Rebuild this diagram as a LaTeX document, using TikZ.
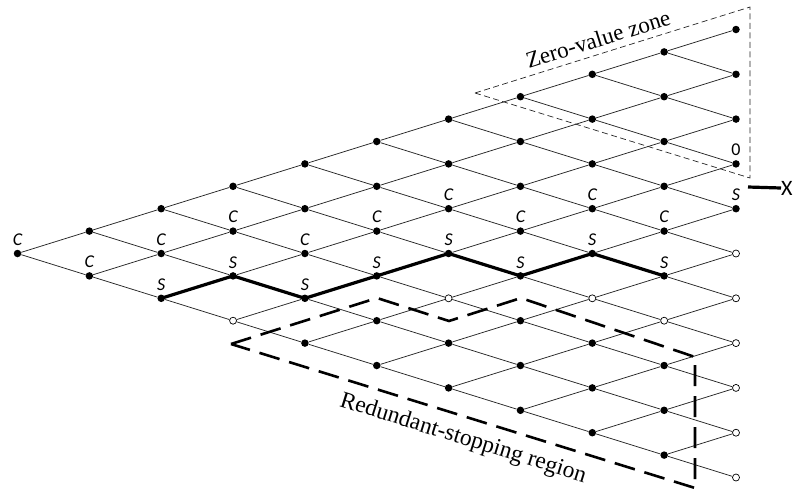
\documentclass[tikz,border=0pt]{standalone}
\usepackage{fontspec}
\setmainfont{Liberation Serif}
\newfontfamily\lblfont{Carlito}
\begin{document}
\begin{tikzpicture}[x=1pt,y=-1pt,
  lattice/.style={line width=0.75pt, black!85},
  dotpt/.style={circle, fill=black, inner sep=0pt, minimum size=7.5pt},
  openpt/.style={circle, draw=black, fill=white, line width=0.7pt, inner sep=0pt, minimum size=7pt},
  lbl/.style={font=\lblfont\itshape\fontsize{18}{18}\selectfont, inner sep=0pt},
  uplbl/.style={font=\lblfont\fontsize{18}{18}\selectfont, inner sep=0pt},
  pathline/.style={line width=3.2pt, line join=round, line cap=round},
  zonedash/.style={line width=0.7pt, black!85, dash pattern=on 6pt off 3.5pt},
  regiondash/.style={line width=2.6pt, dash pattern=on 21pt off 10pt},
  zonetext/.style={font=\fontsize{23}{23}\selectfont, inner sep=0pt}
]
\useasboundingbox (0,0) rectangle (795,491);

% lattice nodes: column k, row j (from the top), level m = k - 2j
\foreach \k in {0,...,10} {
  \foreach \j in {0,...,\k} {
    \pgfmathtruncatemacro\m{\k-2*\j}
    \pgfmathtruncatemacro\isopen{((\k==10)&&(\m<1)) || ((\k==3)&&(\m==-3)) || ((\k==6)&&(\m==-2)) || ((\k==8)&&(\m==-2)) || ((\k==9)&&(\m==-3))}
    \pgfmathsetmacro\px{17.5+71.85*\k}
    \pgfmathsetmacro\py{253.5-22.4*\m}
    \ifnum\isopen=1
      \node[openpt] (n-\k-\j) at (\px,\py) {};
    \else
      \node[dotpt] (n-\k-\j) at (\px,\py) {};
    \fi
  }
}

% up and down moves
\foreach \k in {0,...,9} {
  \pgfmathtruncatemacro\kn{\k+1}
  \foreach \j in {0,...,\k} {
    \pgfmathtruncatemacro\jn{\j+1}
    \draw[lattice] (n-\k-\j) -- (n-\kn-\j);
    \draw[lattice] (n-\k-\j) -- (n-\kn-\jn);
  }
}

% stopping boundary
\draw[pathline] (n-2-2.center) -- (n-3-2.center) -- (n-4-3.center) -- (n-5-3.center)
  -- (n-6-3.center) -- (n-7-4.center) -- (n-8-4.center) -- (n-9-5.center);

% continuation labels
\foreach \k/\j in {0/0, 1/1, 2/1, 3/1, 4/2, 5/2, 6/2, 7/3, 8/3, 9/4}
  \node[lbl] (c-\k) at ([yshift=14pt]n-\k-\j.center) {C};
% stopping labels
\foreach \k/\j in {2/2, 3/2, 4/3, 5/3, 6/3, 7/4, 8/4, 9/5, 10/4}
  \node[lbl] (s-\k) at ([yshift=13.5pt]n-\k-\j.center) {S};
\node[uplbl] (zero) at ([yshift=14.5pt]n-10-3.center) {0};

% barrier marker
\coordinate (xa) at (748,187);
\node[font=\lblfont\fontsize{22}{22}\selectfont, inner sep=0pt, anchor=west] (xl) at (781,188) {X};
\draw[line width=3.2pt] (xa) -- (xl.west);

% zero-value zone
\coordinate (z1) at (475,93);
\coordinate (z2) at (750,7);
\coordinate (z3) at (750,178);
\draw[zonedash] (z1) -- (z2) -- (z3) -- cycle;
\node[zonetext, rotate=17.4] (ztext) at (598,39) {Zero-value zone};

% redundant-stopping region
\coordinate (r1) at (231,344);
\coordinate (r2) at (377,298);
\coordinate (r3) at (449,321);
\coordinate (r4) at (521,298);
\coordinate (r5) at (695,357);
\coordinate (r6) at (695,488);
\draw[regiondash] (r1) -- (r2) -- (r3) -- (r4) -- (r5) -- (r6) -- cycle;
\node[zonetext, rotate=-17.3, font=\fontsize{23.5}{23.5}\selectfont] (rtext) at (463,439) {Redundant-stopping region};
\end{tikzpicture}
\end{document}
